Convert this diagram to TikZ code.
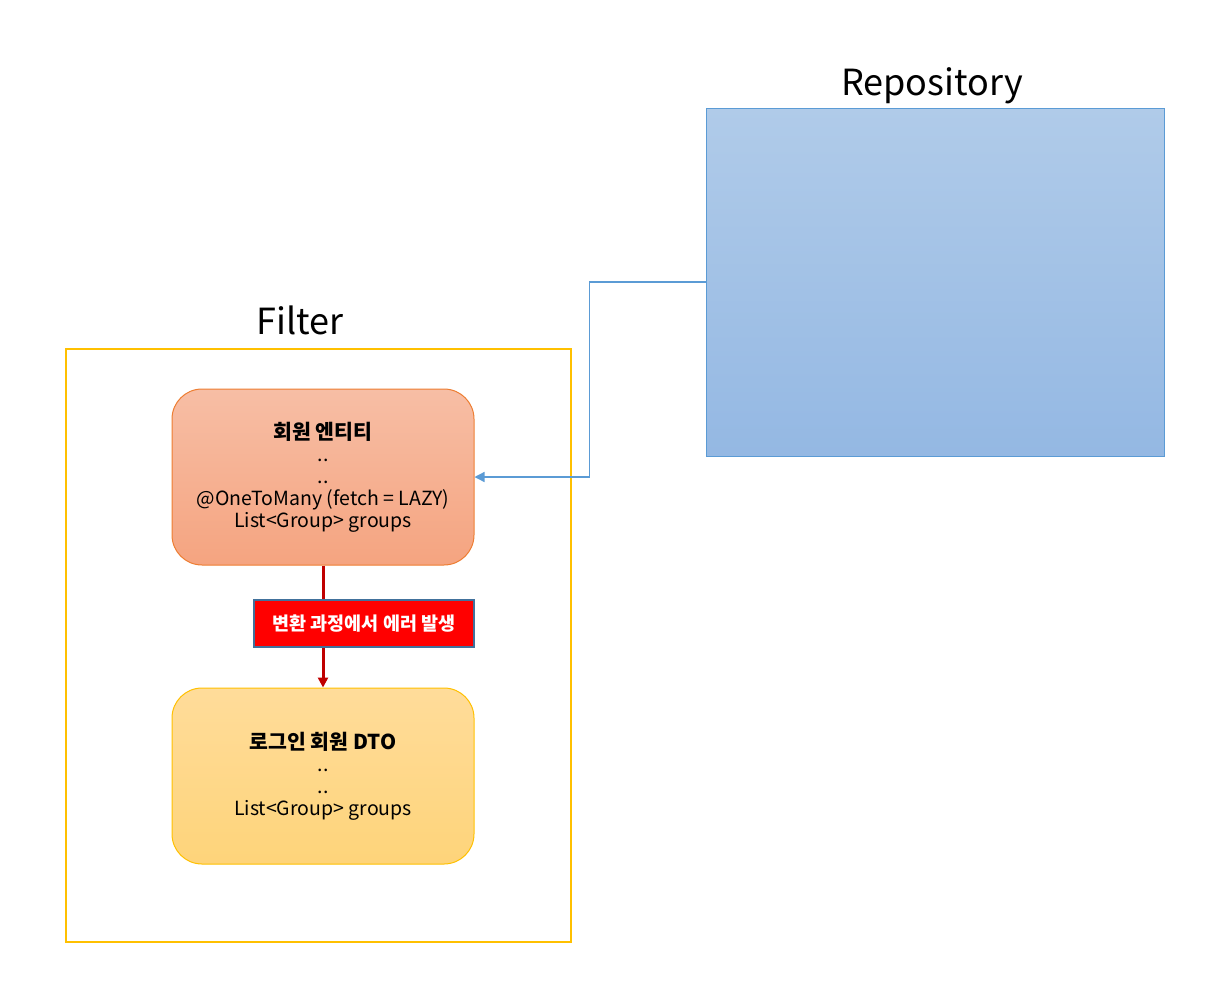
\documentclass[tikz,border=0pt]{standalone}
\usepackage{fontspec}
\setmainfont{Noto Sans CJK KR}
\usetikzlibrary{arrows.meta, positioning}
\definecolor{repoblue}{HTML}{5B9BD5}
\definecolor{repotop}{HTML}{B0CBE9}
\definecolor{repobottom}{HTML}{94B8E3}
\definecolor{frameyellow}{HTML}{FFC000}
\definecolor{entityline}{HTML}{ED7D31}
\definecolor{entitytop}{HTML}{F7BEA5}
\definecolor{entitybottom}{HTML}{F5A480}
\definecolor{dtotop}{HTML}{FFDC9A}
\definecolor{dtobottom}{HTML}{FED47A}
\definecolor{darkred}{HTML}{C00000}
\definecolor{errline}{HTML}{41719C}
\newcommand{\cardhead}[1]{{\bfseries\fontsize{20.5}{24}\selectfont #1}}
\tikzstyle{title} = [font=\fontsize{36}{42}\selectfont]
\tikzstyle{frame} = [draw=frameyellow, line width=2pt]
\tikzstyle{repo} = [draw=repoblue, line width=1pt, top color=repotop, bottom color=repobottom, minimum width=458pt, minimum height=348pt]
\tikzstyle{card} = [rounded corners=30pt, line width=1pt, minimum width=302pt, minimum height=176pt, align=center, font=\fontsize{19.5}{22}\selectfont]
\tikzstyle{entity} = [card, draw=entityline, top color=entitytop, bottom color=entitybottom]
\tikzstyle{dto} = [card, draw=frameyellow, top color=dtotop, bottom color=dtobottom]
\tikzstyle{errlabel} = [draw=errline, line width=2pt, fill=red, text=white, minimum width=220pt, minimum height=47pt, font=\bfseries\fontsize{18.5}{22}\selectfont]
\tikzstyle{fail} = [-{Triangle[length=10pt, width=10pt]}, draw=darkred, line width=3pt]
\tikzstyle{link} = [-{Triangle[length=10pt, width=10pt]}, draw=repoblue, line width=1.3pt]

\begin{document}
\begin{tikzpicture}[x=1pt, y=-1pt]
  \useasboundingbox (0,0) rectangle (1221,997);

  % Repository
  \node[repo] (repo) at (935,282) {};
  \node[title] (repotitle) at (932,86) {Repository};

  % Filter
  \draw[frame] (66,349) rectangle (571,942);
  \node[title] (filtertitle) at (300,320) {Filter};

  % 엔티티 -> DTO
  \node[entity] (entity) at (323,477) {\cardhead{회원 엔티티}\\..\\..\\@OneToMany (fetch = LAZY)\\List<Group> groups};
  \node[dto] (dto) at (323,776) {\cardhead{로그인 회원 DTO}\\..\\..\\List<Group> groups};
  \draw[fail] (entity) -- (dto);
  \node[errlabel] (err) at (364,623.5) {변환 과정에서 에러 발생};

  % 조회
  \draw[link] (repo.west) -- ++(-116,0) |- (entity.east);
\end{tikzpicture}
\end{document}
